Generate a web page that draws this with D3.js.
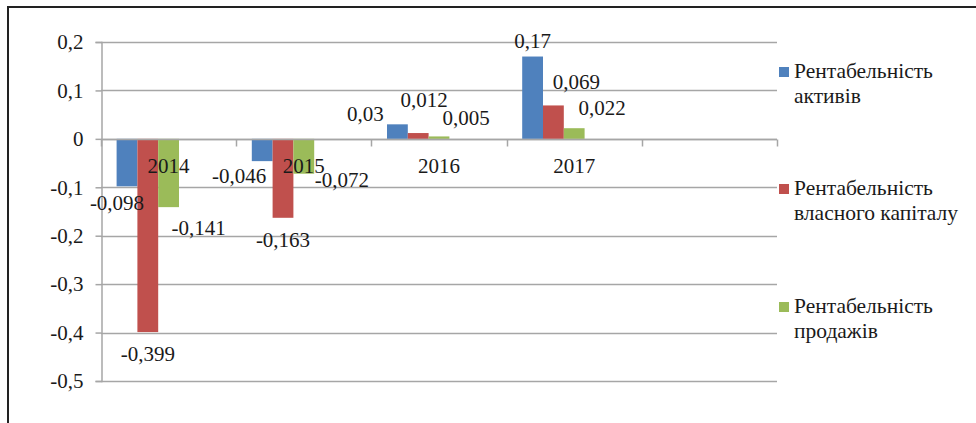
<!DOCTYPE html>
<html>
<head>
<meta charset="utf-8">
<script src="https://cdn.jsdelivr.net/npm/d3@7/dist/d3.min.js"></script>
<style>
  html, body { margin: 0; padding: 0; background: #fff; }
  svg { display: block; }
</style>
</head>
<body>
<svg id="chart" width="976" height="423"></svg>
<script>
// ---- data ----
const categories = ["2014", "2015", "2016", "2017", ""];
const seriesNames = ["Рентабельність активів", "Рентабельність власного капіталу", "Рентабельність продажів"];
const legendLines = [["Рентабельність", "активів"], ["Рентабельність", "власного капіталу"], ["Рентабельність", "продажів"]];
const assets = [-0.098, -0.046, 0.03, 0.17, null];
const equity = [-0.399, -0.163, 0.012, 0.069, null];
const sales  = [-0.141, -0.072, 0.005, 0.022, null];
const yTicks = [0.2, 0.1, 0, -0.1, -0.2, -0.3, -0.4, -0.5];
const colors = ["#4F81BD", "#C0504D", "#9BBB59"];

// label nudges (dx from bar centre, dy from bar end to baseline), per series per category
const labelNudge = [
  [[-10, 24], [-23, 22], [-32, -3.5], [0, -9]],
  [[0, 29], [0, 29], [6, -26], [23, -16.5]],
  [[30, 28], [38, 13], [27, -11.5], [28, -13]]
];

const allSeries = [assets, equity, sales];
const fmt = v => String(v).replace(".", ",");
const FONT = "'Liberation Serif', Tinos, 'Times New Roman', Times, 'DejaVu Serif', serif";

const svg = d3.select("#chart");
const plotLeft = 101, plotRight = 777, plotTop = 42, plotBottom = 381;

const y = d3.scaleLinear().domain([-0.5, 0.2]).range([plotBottom, plotTop]);
const x0 = d3.scaleBand().domain(categories).range([plotLeft, plotRight]).padding(0);
const x1 = d3.scaleBand().domain([0, 1, 2, 3, 4]).range([0, x0.bandwidth()])
  .paddingInner(0).paddingOuter(0.75);

// frame
svg.append("line").attr("x1", 8).attr("x2", 976).attr("y1", 7).attr("y2", 7)
  .attr("stroke", "#222").attr("stroke-width", 2);
svg.append("line").attr("x1", 8).attr("x2", 8).attr("y1", 6).attr("y2", 423)
  .attr("stroke", "#222").attr("stroke-width", 2);

const gridColor = "#a6a6a6";
// gridlines
svg.append("g").selectAll("line").data(yTicks).join("line")
  .attr("x1", plotLeft).attr("x2", plotRight)
  .attr("y1", d => Math.round(y(d)) + 0.5).attr("y2", d => Math.round(y(d)) + 0.5)
  .attr("stroke", gridColor).attr("stroke-width", 1.5);

// y axis
const yAxis = d3.axisLeft(y).tickValues(yTicks).tickSize(6).tickPadding(12)
  .tickFormat(d => d === 0 ? "0" : fmt(+d.toFixed(1)));
const gy = svg.append("g").attr("transform", `translate(${plotLeft + 0.5},0)`).call(yAxis)
  .attr("font-family", FONT).attr("font-size", 21);
gy.select(".domain").attr("stroke", gridColor).attr("stroke-width", 1.5);
gy.selectAll(".tick line").attr("stroke", gridColor).attr("stroke-width", 1.5);
gy.selectAll(".tick text").style("font-family", FONT).attr("fill", "#1a1a1a");

// bars
allSeries.forEach((s, si) => {
  svg.append("g").selectAll("rect")
    .data(s.map((v, i) => ({ v, c: categories[i] })).filter(d => d.v !== null))
    .join("rect")
    .attr("x", d => x0(d.c) + x1(si))
    .attr("width", x1.bandwidth())
    .attr("y", d => Math.min(y(d.v), y(0)))
    .attr("height", d => Math.abs(y(d.v) - y(0)))
    .attr("fill", colors[si]);
});

// x axis line at zero + tick marks
const zeroY = Math.round(y(0)) + 0.5;
svg.append("line").attr("x1", plotLeft).attr("x2", plotRight).attr("y1", zeroY).attr("y2", zeroY)
  .attr("stroke", gridColor).attr("stroke-width", 1.5);
const boundaries = categories.map(c => x0(c)).concat([plotRight]);
svg.append("g").selectAll("line").data(boundaries).join("line")
  .attr("x1", d => Math.round(d) + 0.5).attr("x2", d => Math.round(d) + 0.5)
  .attr("y1", zeroY).attr("y2", zeroY + 7)
  .attr("stroke", gridColor).attr("stroke-width", 1.5);

// category labels
svg.append("g").selectAll("text").data(categories.filter(c => c !== "")).join("text")
  .attr("x", d => x0(d) + x0.bandwidth() / 2)
  .attr("y", zeroY + 33)
  .attr("text-anchor", "middle").attr("font-size", 21)
  .style("font-family", FONT).attr("fill", "#1a1a1a")
  .text(d => d);

// data labels
allSeries.forEach((s, si) => {
  svg.append("g").selectAll("text")
    .data(s.map((v, i) => ({ v, c: categories[i], i })).filter(d => d.v !== null))
    .join("text")
    .attr("x", d => x0(d.c) + x1(si) + x1.bandwidth() / 2 + labelNudge[si][d.i][0])
    .attr("y", d => y(d.v) + labelNudge[si][d.i][1])
    .attr("text-anchor", "middle").attr("font-size", 21)
    .style("font-family", FONT).attr("fill", "#1a1a1a")
    .text(d => fmt(d.v));
});

// legend
const legendY = [78, 195, 313];
const lg = svg.append("g");
seriesNames.forEach((name, i) => {
  const g = lg.append("g").attr("transform", `translate(779,${legendY[i]})`);
  g.append("rect").attr("x", 0).attr("y", -11).attr("width", 10).attr("height", 10).attr("fill", colors[i]);
  g.append("text").attr("x", 15).attr("y", 0).attr("font-size", 21.5)
    .style("font-family", FONT).attr("fill", "#1a1a1a").text(legendLines[i][0]);
  g.append("text").attr("x", 15).attr("y", 25).attr("font-size", 21.5)
    .style("font-family", FONT).attr("fill", "#1a1a1a").text(legendLines[i][1]);
});
</script>
</body>
</html>
